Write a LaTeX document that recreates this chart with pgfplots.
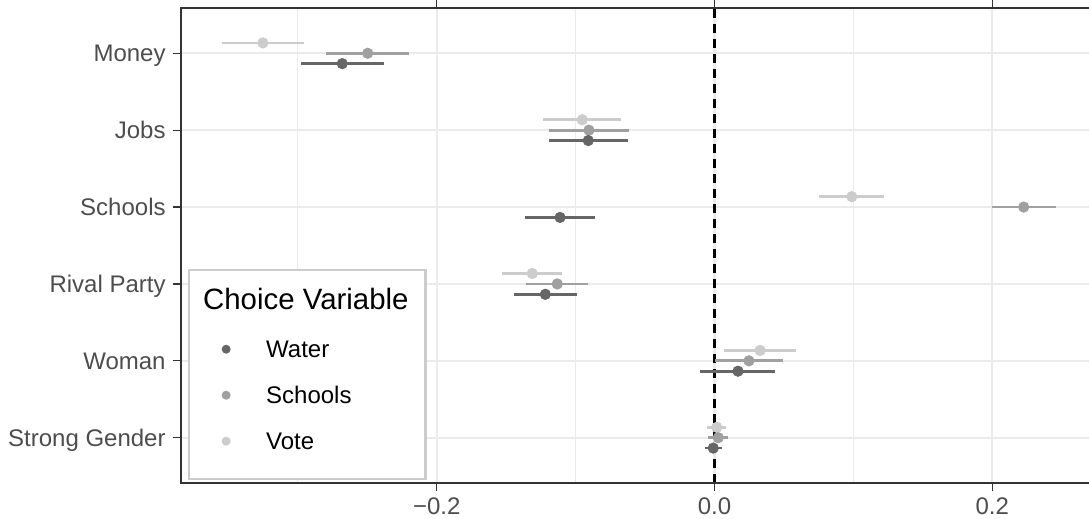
\documentclass[border=0pt]{standalone}
\usepackage{pgfplots}
\pgfplotsset{compat=1.18}
\usepackage{pgfplotstable}
\usepackage{fontspec}
\setmainfont{Liberation Sans}
\usetikzlibrary{calc}
\definecolor{cW}{HTML}{666666}
\definecolor{cS}{HTML}{A0A0A0}
\definecolor{cV}{HTML}{CCCCCC}
\definecolor{gridc}{HTML}{EBEBEB}
\definecolor{axc}{HTML}{333333}
\definecolor{tickc}{HTML}{4D4D4D}
\definecolor{legc}{HTML}{CCCCCC}

\pgfplotstableread{
x y e
-0.3251 6.135 0.0297
-0.0952 5.135 0.0282
0.0988 4.135 0.0234
-0.1312 3.135 0.0216
0.0328 2.135 0.0258
0.0016 1.135 0.0067
}\vote
\pgfplotstableread{
x y e
-0.2497 6 0.0297
-0.0904 5 0.0286
0.2226 4 0.0229
-0.1132 3 0.0224
0.0248 2 0.0246
0.0027 1 0.0072
}\schools
\pgfplotstableread{
x y e
-0.2680 5.865 0.0298
-0.0909 4.865 0.0284
-0.1112 3.865 0.0250
-0.1218 2.865 0.0228
0.0169 1.865 0.0270
-0.0009 0.865 0.0063
}\water

\begin{document}
\begin{tikzpicture}
\begin{axis}[
  scale only axis,
  width=454.15pt, height=237.5pt,
  xmin=-0.3843, xmax=0.2696,
  ymin=0.411, ymax=6.589,
  axis line style={draw=none},
  xtick={-0.2,0,0.2},
  xticklabels={−0.2,0.0,0.2},
  minor xtick={-0.3,-0.1,0.1},
  ytick={1,2,3,4,5,6},
  yticklabels={Strong Gender,Woman,Rival Party,Schools,Jobs,Money},
  xmajorgrids, xminorgrids, ymajorgrids,
  major grid style={gridc, line width=1.1pt},
  minor grid style={gridc, line width=0.55pt},
  tick align=outside,
  major tick length=4pt,
  minor tick length=0pt,
  tick style={axc, line width=0.6pt},
  ticklabel style={font=\fontsize{12}{14}\selectfont, text=tickc},
  xticklabel style={inner sep=0pt, yshift=-3pt},
  yticklabel style={inner sep=0pt, anchor=base east, xshift=-3.35pt, yshift=-4.3pt},
  legend image code/.code={\path[draw=none] (0pt,0pt) -- (24pt,0pt); \draw[#1] plot coordinates {(11pt,4.3pt)};},
  legend style={at={(0.008,0.0063)}, anchor=south west, draw=legc, line width=1.2pt, fill=white,
    inner xsep=7.5pt, inner ysep=6pt, row sep=9.6pt, column sep=7pt,
    cells={anchor=base west},
    nodes={inner sep=0pt, text height=11pt, text depth=2.4pt, font=\fontsize{12}{14}\selectfont}},
]
\addlegendimage{empty legend}
\addlegendentry[font=\fontsize{14.7}{17}\selectfont, text height=13.65pt, text depth=3.65pt]{\hspace*{-31.5pt}Choice Variable\hspace*{1pt}}
\addlegendimage{only marks, mark=*, mark size=1.6pt, cW, mark options={draw=none, fill=cW}}
\addlegendentry{Water}
\addlegendimage{only marks, mark=*, mark size=1.6pt, cS, mark options={draw=none, fill=cS}}
\addlegendentry{Schools}
\addlegendimage{only marks, mark=*, mark size=1.6pt, cV, mark options={draw=none, fill=cV}}
\addlegendentry[text depth=8.5pt]{Vote}

\addplot[forget plot, black, line width=1.1pt, dash pattern=on 4.5pt off 3pt] coordinates {(0,0.411) (0,6.589)};

\addplot[forget plot, only marks, mark=*, mark size=2.6pt, color=cV, mark options={draw=none, fill=cV},
  error bars/.cd, x dir=both, x explicit, error mark=none, error bar style={line width=1.35pt, color=cV}]
  table[x=x, y=y, x error=e]{\vote};
\addplot[forget plot, only marks, mark=*, mark size=2.6pt, color=cS, mark options={draw=none, fill=cS},
  error bars/.cd, x dir=both, x explicit, error mark=none, error bar style={line width=1.35pt, color=cS}]
  table[x=x, y=y, x error=e]{\schools};
\addplot[forget plot, only marks, mark=*, mark size=2.6pt, color=cW, mark options={draw=none, fill=cW},
  error bars/.cd, x dir=both, x explicit, error mark=none, error bar style={line width=1.35pt, color=cW}]
  table[x=x, y=y, x error=e]{\water};

\coordinate (bl) at (rel axis cs:0,0);
\coordinate (br) at (rel axis cs:1,0);
\coordinate (tl) at (rel axis cs:0,1);
\coordinate (tr) at (rel axis cs:1,1);
\end{axis}
\draw[axc, line width=1.1pt] (br) -- (bl) -- (tl) -- (tr);
\pgfresetboundingbox
\path ($(bl)+(-90.35pt,-17.5pt)$) rectangle ($(tr)+(0pt,4pt)$);
\end{tikzpicture}
\end{document}
